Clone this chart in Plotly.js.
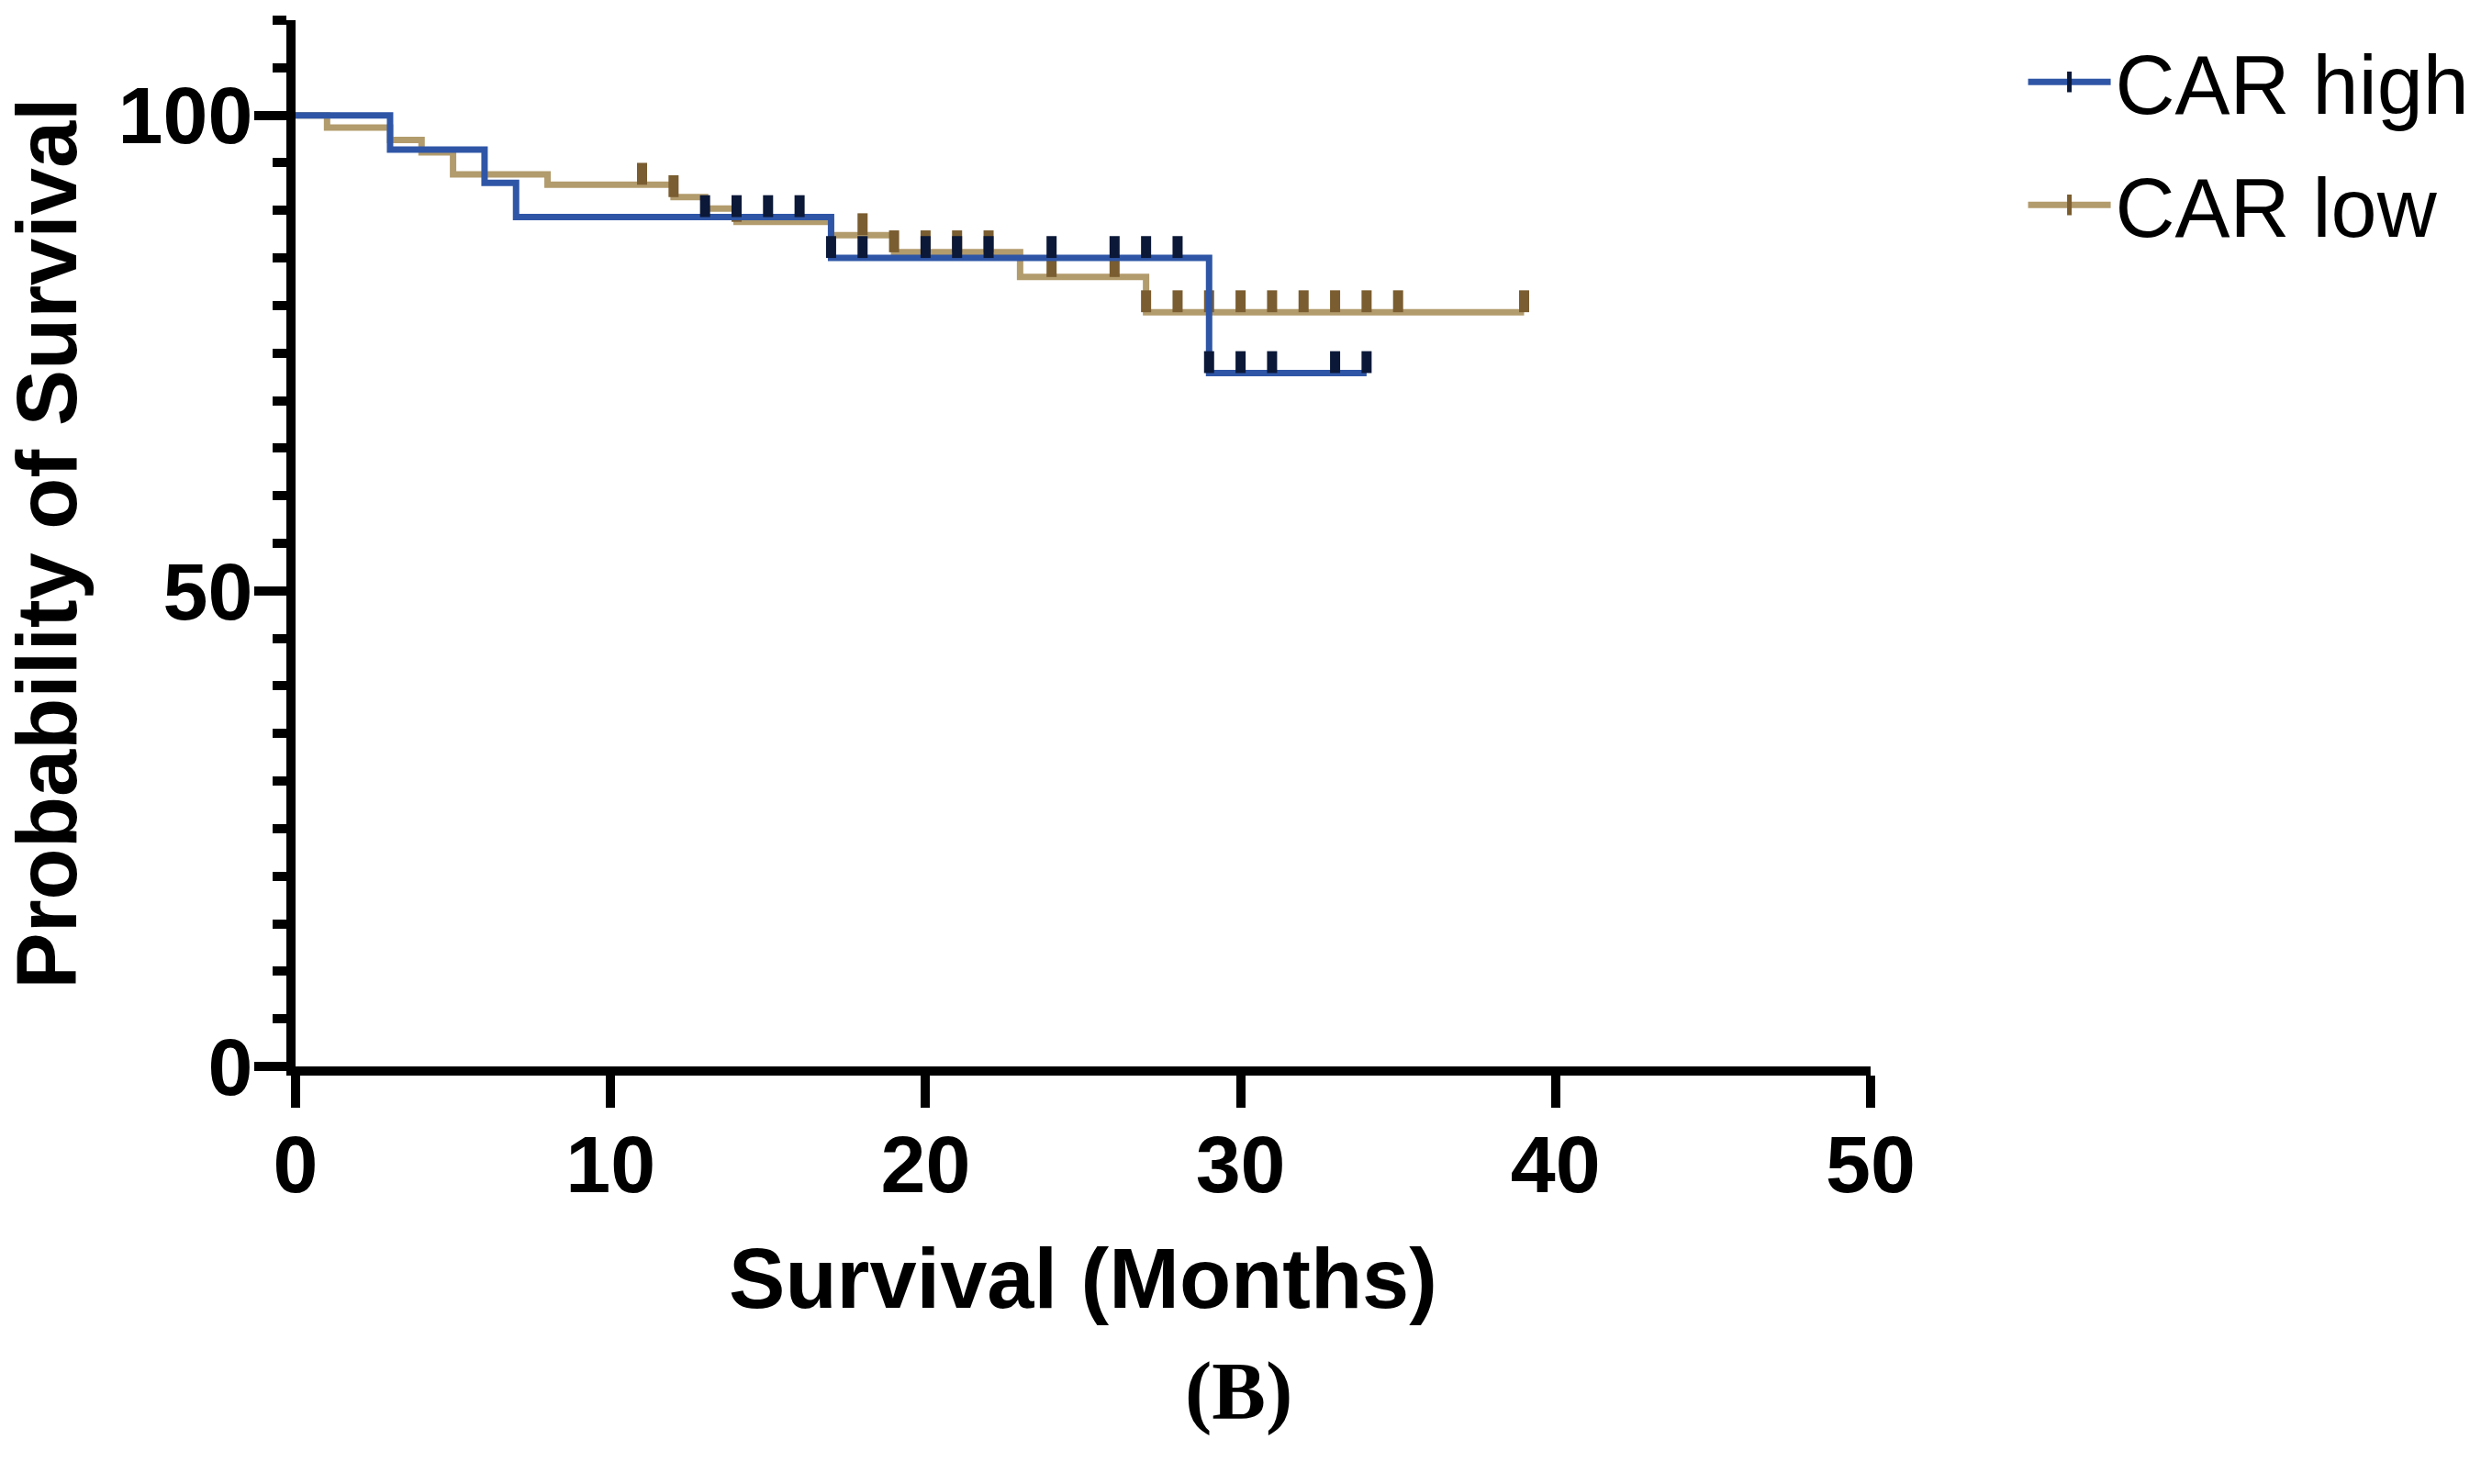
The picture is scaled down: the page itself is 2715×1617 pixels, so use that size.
<!DOCTYPE html>
<html><head><meta charset="utf-8">
<script src="https://cdn.plot.ly/plotly-3.0.1.min.js"></script>
<style>html,body{margin:0;padding:0;background:#fff;}#chart{width:2715px;height:1617px;}</style>
</head><body><div id="chart"></div>
<script>
// ---- data ----
const seriesNames = ['CAR high', 'CAR low'];
const highTimes = [0, 3, 6, 7, 17, 29, 34];
const highSurv  = [100, 96.4, 92.9, 89.3, 85.0, 72.9, 72.9];
const highCensor = [13, 14, 15, 16, 17, 18, 20, 21, 22, 24, 26, 27, 28, 29, 30, 31, 33, 34];
const lowTimes = [0, 1, 3, 4, 5, 8, 12, 13, 14, 17, 19, 23, 27, 39];
const lowSurv  = [100, 98.7, 97.4, 96.1, 93.8, 92.7, 91.4, 90.2, 88.8, 87.4, 85.6, 83.0, 79.3, 79.3];
const lowCensor = [11, 12, 14, 18, 19, 20, 21, 22, 24, 26, 27, 28, 29, 30, 31, 32, 33, 34, 35, 39];
const xTickVals = [0, 10, 20, 30, 40, 50];
const yTickVals = [0, 50, 100];
const yMinorVals = [5, 10, 15, 20, 25, 30, 35, 40, 45, 55, 60, 65, 70, 75, 80, 85, 90, 95, 105, 110];
const panelLabel = '(B)';

// ---- styles ----
const highLine = '#2f56a6', highMark = '#0b1838';
const lowLine = '#b29b6c', lowMark = '#7a5d30';
const censorHeight = 2.3; // vertical size of a censor tick, in axis units

function survAt(times, surv, t) {
  let v = surv[0];
  for (let i = 0; i < times.length; i++) if (times[i] <= t) v = surv[i];
  return v;
}

function lineTrace(times, surv, color) {
  return {x: times, y: surv, type: 'scatter', mode: 'lines', line: {shape: 'hv', color: color, width: 7},
          showlegend: false, hoverinfo: 'skip'};
}
function censorTrace(times, stepT, stepS, color) {
  return {x: times, y: times.map(t => survAt(stepT, stepS, t)), type: 'scatter', mode: 'markers',
          marker: {size: 1, color: 'rgba(0,0,0,0)'},
          error_y: {type: 'data', symmetric: false, array: times.map(() => censorHeight),
                    arrayminus: times.map(() => 0), color: color, thickness: 11, width: 0},
          showlegend: false, hoverinfo: 'skip'};
}
function legendTrace(name, lcol, mcol, group) {
  return {x: [null], y: [null], type: 'scatter', mode: 'lines+markers', name: name, legendgroup: group,
          line: {color: lcol, width: 7},
          marker: {symbol: 'line-ns', size: 16, line: {color: mcol, width: 5}, color: mcol}};
}

const data = [
  lineTrace(lowTimes, lowSurv, lowLine),
  censorTrace(lowCensor, lowTimes, lowSurv, lowMark),
  lineTrace(highTimes, highSurv, highLine),
  censorTrace(highCensor, highTimes, highSurv, highMark),
  legendTrace(seriesNames[0], highLine, highMark, 'g1'),
  legendTrace(seriesNames[1], lowLine, lowMark, 'g2')
];

const tickFont = {family: 'Liberation Sans, Arial, sans-serif', size: 88, color: '#000', weight: 'bold'};
const titleFont = {family: 'Liberation Sans, Arial, sans-serif', size: 92, color: '#000', weight: 'bold'};

const layout = {
  width: 2715, height: 1617,
  paper_bgcolor: '#fff', plot_bgcolor: '#fff',
  margin: {l: 322, r: 677, t: 22, b: 455, pad: 0},
  showlegend: true,
  legend: {xref: 'container', yref: 'container', x: 0.812, y: 0.985, xanchor: 'left', yanchor: 'top',
           font: {family: 'Liberation Sans, Arial, sans-serif', size: 90, color: '#000'},
           itemwidth: 90, bgcolor: 'rgba(0,0,0,0)', traceorder: 'grouped', tracegroupgap: 14},
  xaxis: {range: [0, 50], tickvals: xTickVals, ticktext: xTickVals.map(String),
          showline: true, linewidth: 10, linecolor: '#000', ticks: 'outside', ticklen: 35, tickwidth: 10,
          tickcolor: '#000', showgrid: false, zeroline: false, tickfont: tickFont, ticklabelstandoff: -14,
          title: {text: 'Survival (Months)', font: titleFont, standoff: 48}},
  yaxis: {range: [0, 110], tickvals: yTickVals, ticktext: yTickVals.map(String),
          showline: true, linewidth: 10, linecolor: '#000', ticks: 'outside', ticklen: 35, tickwidth: 10,
          tickcolor: '#000', showgrid: false, zeroline: false, tickfont: tickFont, ticklabelstandoff: -16,
          minor: {tickvals: yMinorVals, ticks: 'outside', ticklen: 15, tickwidth: 10, tickcolor: '#000', showgrid: false},
          title: {text: 'Probability of Survival', font: titleFont, standoff: 48}},
  annotations: [{text: panelLabel, xref: 'paper', yref: 'paper', x: 0.599, y: -0.31,
                 xanchor: 'center', yanchor: 'middle', showarrow: false,
                 font: {family: 'Liberation Serif, Times New Roman, serif', size: 88, color: '#000', weight: 'bold'}}]
};

Plotly.newPlot('chart', data, layout, {staticPlot: true, displayModeBar: false});
</script></body></html>
